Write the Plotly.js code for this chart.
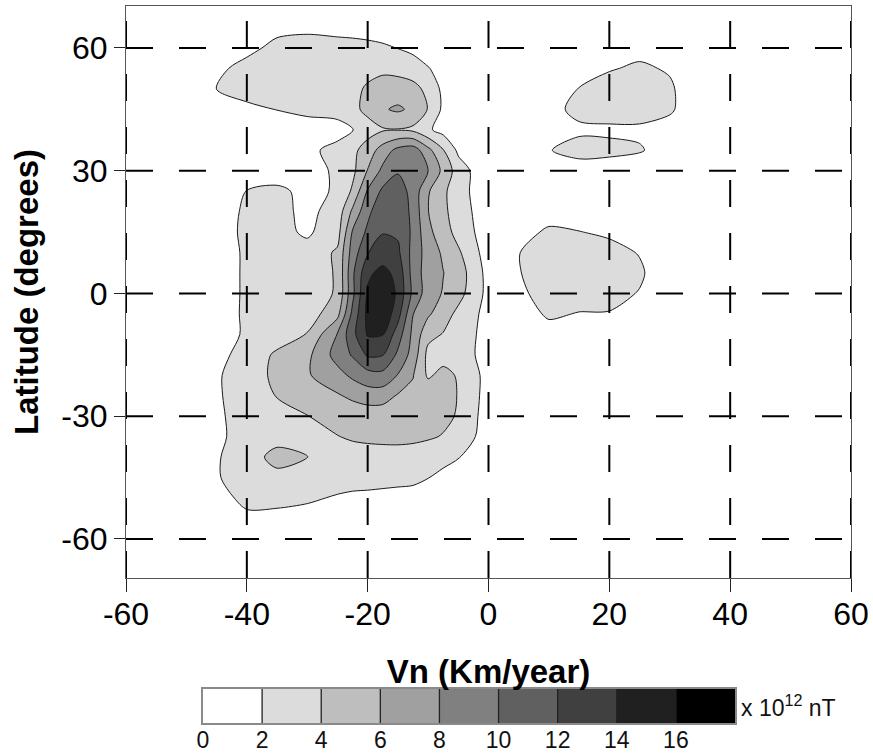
<!DOCTYPE html>
<html>
<head>
<meta charset="utf-8">
<script src="https://cdn.plot.ly/plotly-3.0.1.min.js"></script>
<style>html,body{margin:0;padding:0;background:#fff;}#chart{width:873px;height:754px;}</style>
</head>
<body>
<div id="chart"></div>
<script>
// Grid of Vn (km/year) columns and latitude (degrees) rows
var vnKmYear = [-50, -45, -40, -35, -30, -25, -22.5, -20, -17.5, -15, -12.5, -10, -7.5, -5, 0, 5, 10, 15, 20, 25, 30, 35];
var latitudeDeg = [-60, -55, -50, -45, -40, -35, -30, -25, -20, -15, -10, -5, 0, 5, 10, 15, 20, 25, 30, 35, 40, 45, 50, 55, 60, 65];
// Field values (x 10^12 nT), one row per latitude (south to north)
var fieldValues = [
  [0,   0,   0,   0,    0,    0,    0,    0,    0,    0,    0,    0,    0,    0,    0,   0,   0,   0,    0,    0,   0,   0],
  [0,   0.8, 1.6, 1.5,  1.2,  0.8,  0.6,  0.5,  0.4,  0.3,  0.2,  0,    0,    0,    0,   0,   0,   0,    0,    0,   0,   0],
  [0.2, 1.3, 2.5, 2.5,  2.3,  1.8,  1.6,  1.5,  1.4,  1.3,  1.2,  1.0,  0.6,  0.4,  0,   0,   0,   0,    0,    0,   0,   0],
  [0.3, 1.9, 2.6, 3.15, 3.0,  2.9,  2.8,  2.8,  2.7,  2.6,  2.5,  2.05, 1.4,  0.9,  0.2, 0,   0,   0,    0,    0,   0,   0],
  [0.3, 1.9, 2.6, 5.0,  4.05, 3.4,  3.3,  3.2,  3.2,  3.25, 3.2,  3.0,  2.7,  2.1,  0.5, 0,   0,   0,    0,    0,   0,   0],
  [0.3, 1.8, 2.4, 2.9,  3.3,  3.95, 4.2,  4.4,  4.5,  4.5,  4.4,  4.2,  3.9,  3.3,  1.0, 0,   0,   0,    0,    0,   0,   0],
  [0.3, 1.8, 2.5, 3.1,  3.95, 4.6,  4.8,  4.8,  4.8,  4.7,  4.6,  4.6,  4.4,  3.85, 1.0, 0,   0,   0,    0,    0,   0,   0],
  [0.3, 1.8, 2.8, 4.1,  5.2,  5.8,  6.4,  7.0,  6.9,  5.8,  5.5,  5.4,  4.9,  3.9,  1.2, 0,   0,   0,    0,    0,   0,   0],
  [0.3, 1.8, 2.9, 4.5,  5.8,  7.3,  8.4,  9.2,  9.4,  7.9,  6.1,  3.7,  4.6,  3.8,  1.3, 0,   0,   0,    0,    0,   0,   0],
  [0.3, 1.6, 2.5, 4.4,  5.5,  8.8,  10.2, 12.3, 12.1, 9.6,  7.2,  3.4,  3.2,  3.0,  1.2, 0,   0.3, 0.2,  0,    0,   0,   0],
  [0.2, 1.0, 2.3, 2.8,  4.1,  8.1,  11.4, 14.2, 14.1, 11.0, 7.5,  4.6,  3.9,  3.2,  1.2, 0.5, 1.2, 0.9,  0.8,  0.3, 0,   0],
  [0,   1.1, 2.3, 2.6,  2.9,  5.4,  10.5, 14.6, 15.6, 12.8, 8.05, 6.3,  4.9,  3.5,  1.3, 1.0, 2.3, 1.9,  1.9,  1.0, 0,   0],
  [0,   1.0, 2.3, 2.6,  3.0,  4.2,  9.5,  14.3, 15.8, 13.6, 9.5,  7.0,  5.85, 4.7,  1.4, 1.6, 2.8, 2.9,  2.6,  1.9, 0.3, 0],
  [0,   1.0, 2.3, 2.6,  2.9,  4.2,  9.6,  13.6, 14.6, 13.4, 9.2,  7.0,  6.05, 5.0,  1.3, 1.9, 3.0, 3.1,  2.8,  2.3, 0.6, 0],
  [0,   1.0, 2.3, 2.6,  2.7,  4.3,  8.9,  11.9, 12.9, 12.4, 9.3,  7.1,  5.7,  4.3,  1.0, 1.95,2.9, 2.8,  2.6,  1.9, 0.5, 0],
  [0,   0.9, 2.5, 2.6,  1.7,  3.2,  8.2,  10.4, 11.9, 11.7, 9.6,  6.5,  4.9,  3.3,  0.9, 1.3, 2.3, 2.05, 1.7,  1.0, 0.3, 0],
  [0,   0.8, 2.4, 2.6,  1.5,  2.8,  6.4,  9.5,  11.5, 11.6, 9.4,  6.05, 4.5,  2.9,  0.9, 0.6, 1.2, 1.1,  0.8,  0.3, 0,   0],
  [0,   0.6, 2.05,2.4,  1.5,  2.2,  4.3,  8.2,  10.4, 11.0, 9.3,  6.2,  4.45, 2.7,  0.8, 0.3, 0.6, 0.5,  0.4,  0.2, 0,   0],
  [0,   0.3, 0.7, 1.0,  1.3,  2.3,  3.5,  6.1,  8.5,  9.8,  9.6,  8.0,  5.5,  3.0,  0.4, 0,   0.8, 0.9,  0.8,  0.6, 0,   0],
  [0,   0.3, 0.6, 0.9,  1.4,  2.8,  3.5,  4.9,  6.9,  8.6,  9.1,  6.6,  4.1,  1.6,  0.3, 0.5, 1.9, 2.8,  2.6,  2.2, 1.0, 0],
  [0,   0.4, 0.7, 0.8,  0.9,  1.0,  1.95, 3.2,  3.8,  3.9,  3.6,  2.3,  1.3,  0.6,  0,   0,   1.0, 1.6,  1.6,  1.6, 1.2, 0.3],
  [0,   1.2, 1.6, 2.05, 2.6,  3.0,  3.5,  4.5,  5.8,  6.3,  5.6,  3.9,  1.6,  0.5,  0,   0,   1.3, 2.6,  3.0,  3.0, 2.3, 0.5],
  [0.4, 2.05,2.7, 2.9,  2.8,  2.9,  3.4,  4.3,  5.0,  4.9,  4.6,  3.5,  1.5,  0.4,  0,   0,   1.2, 2.05, 2.8,  2.9, 2.3, 0.5],
  [0.3, 1.6, 2.6, 3.0,  3.0,  3.0,  3.1,  3.3,  3.5,  3.4,  3.0,  2.1,  1.3,  0.6,  0,   0,   0.5, 1.3,  1.85, 2.3, 1.8, 0.3],
  [0,   0.5, 1.5, 2.5,  2.8,  2.7,  2.65, 2.5,  2.3,  1.95, 1.5,  1.0,  0.6,  0.3,  0,   0,   0,   0.5,  1.2,  1.4, 0.8, 0],
  [0,   0,   0.8, 1.5,  1.6,  1.4,  1.3,  1.2,  1.0,  0.8,  0.5,  0.3,  0,    0,    0,   0,   0,   0,    0,    0.3, 0.2, 0]
];
// Contour levels and band colours (0-2, 2-4, ..., 16+)
var levelStart = 2, levelEnd = 16, levelStep = 2;
var bandColors = ['#ffffff', '#dcdcdc', '#bebebe', '#a0a0a0', '#808080', '#606060', '#404040', '#202020', '#000000'];
// Colour-bar scale (x 10^12 nT)
var scaleRange = [0, 18];
var scaleTicks = [0, 2, 4, 6, 8, 10, 12, 14, 16];
// Axis ticks
var xTicks = [-60, -40, -20, 0, 20, 40, 60];
var xTickText = ['-60', '-40', '-20', '0', '20', '40', '60'];
var yTicks = [-60, -30, 0, 30, 60];
var yTickText = ['-60', '-30', '0', '30', '60'];
var xGrid = [-60, -40, -20, 0, 20, 40, 60];
var yGrid = [-60, -30, 0, 30, 60];

var colorscale = bandColors.map(function (c, i) { return [i / (bandColors.length - 1), c]; });
var contourSpec = {start: levelStart, end: levelEnd, size: levelStep, coloring: 'fill', showlines: true};

var mainTrace = {
  type: 'contour', x: vnKmYear, y: latitudeDeg, z: fieldValues,
  autocontour: false, contours: contourSpec, colorscale: colorscale,
  line: {color: '#1a1a1a', width: 1, smoothing: 0.85},
  showscale: false, hoverinfo: 'skip', xaxis: 'x', yaxis: 'y'
};
var scaleTrace = {
  type: 'contour', x: scaleRange, y: [0, 1], z: [scaleRange, scaleRange],
  autocontour: false, contours: contourSpec, colorscale: colorscale,
  line: {color: '#222222', width: 1.3, smoothing: 0},
  showscale: false, hoverinfo: 'skip', xaxis: 'x2', yaxis: 'y2'
};

var shapes = [];
var dashSpec = '27px,26px';
xGrid.forEach(function (v) {
  shapes.push({type: 'line', layer: 'above', xref: 'x', yref: 'y domain', x0: v, x1: v, y0: 0, y1: 1,
    line: {color: '#000', width: 2, dash: dashSpec}});
});
yGrid.forEach(function (v) {
  shapes.push({type: 'line', layer: 'above', xref: 'x domain', yref: 'y', x0: 0, x1: 1, y0: v, y1: v,
    line: {color: '#000', width: 2, dash: dashSpec}});
});

var tickFont = {family: 'Liberation Sans, Arial, sans-serif', size: 32, color: '#000'};
var titleFont = {family: 'Liberation Sans, Arial, sans-serif', size: 33, color: '#000', weight: 'bold'};
var scaleFont = {family: 'Liberation Sans Narrow, Arial Narrow, Liberation Sans, sans-serif', size: 23, color: '#111'};

var layout = {
  width: 873, height: 754,
  margin: {l: 126, r: 22, t: 6, b: 31, pad: 0},
  paper_bgcolor: '#fff', plot_bgcolor: '#fff',
  showlegend: false,
  xaxis: {
    domain: [0, 1], anchor: 'y', range: [-60, 60], tickvals: xTicks, ticktext: xTickText,
    ticks: 'outside', ticklen: 13, tickwidth: 1, tickcolor: '#222', ticklabelstandoff: -5,
    showline: true, mirror: true, linecolor: '#555', linewidth: 1,
    showgrid: false, zeroline: false, tickfont: tickFont,
    title: {text: 'Vn (Km/year)', font: titleFont, standoff: 28}, automargin: false
  },
  yaxis: {
    domain: [0.2022, 1], anchor: 'x', range: [-69.55, 70.25], tickvals: yTicks, ticktext: yTickText,
    ticks: 'outside', ticklen: 11, tickwidth: 1, tickcolor: '#222',
    showline: true, mirror: true, linecolor: '#555', linewidth: 1,
    showgrid: false, zeroline: false, tickfont: tickFont,
    title: {text: 'Latitude (degrees)', font: titleFont, standoff: 12}, automargin: false
  },
  xaxis2: {
    domain: [0.1062, 0.84], anchor: 'y2', range: scaleRange, tickvals: scaleTicks,
    ticks: '', showline: true, mirror: true, linecolor: '#8a8a8a', linewidth: 2,
    showgrid: false, zeroline: false, tickfont: scaleFont, ticklabelstandoff: -5
  },
  yaxis2: {
    domain: [0, 0.0474], anchor: 'x2', range: [0, 1], showticklabels: false, ticks: '',
    showline: true, mirror: true, linecolor: '#8a8a8a', linewidth: 2,
    showgrid: false, zeroline: false
  },
  shapes: shapes,
  annotations: [{
    xref: 'paper', yref: 'paper', x: 0.845, y: 0.0237, xanchor: 'left', yanchor: 'middle',
    text: 'x 10<sup>12</sup> nT', showarrow: false, font: scaleFont
  }]
};

Plotly.newPlot('chart', [mainTrace, scaleTrace], layout, {staticPlot: true, displayModeBar: false});
</script>
</body>
</html>
